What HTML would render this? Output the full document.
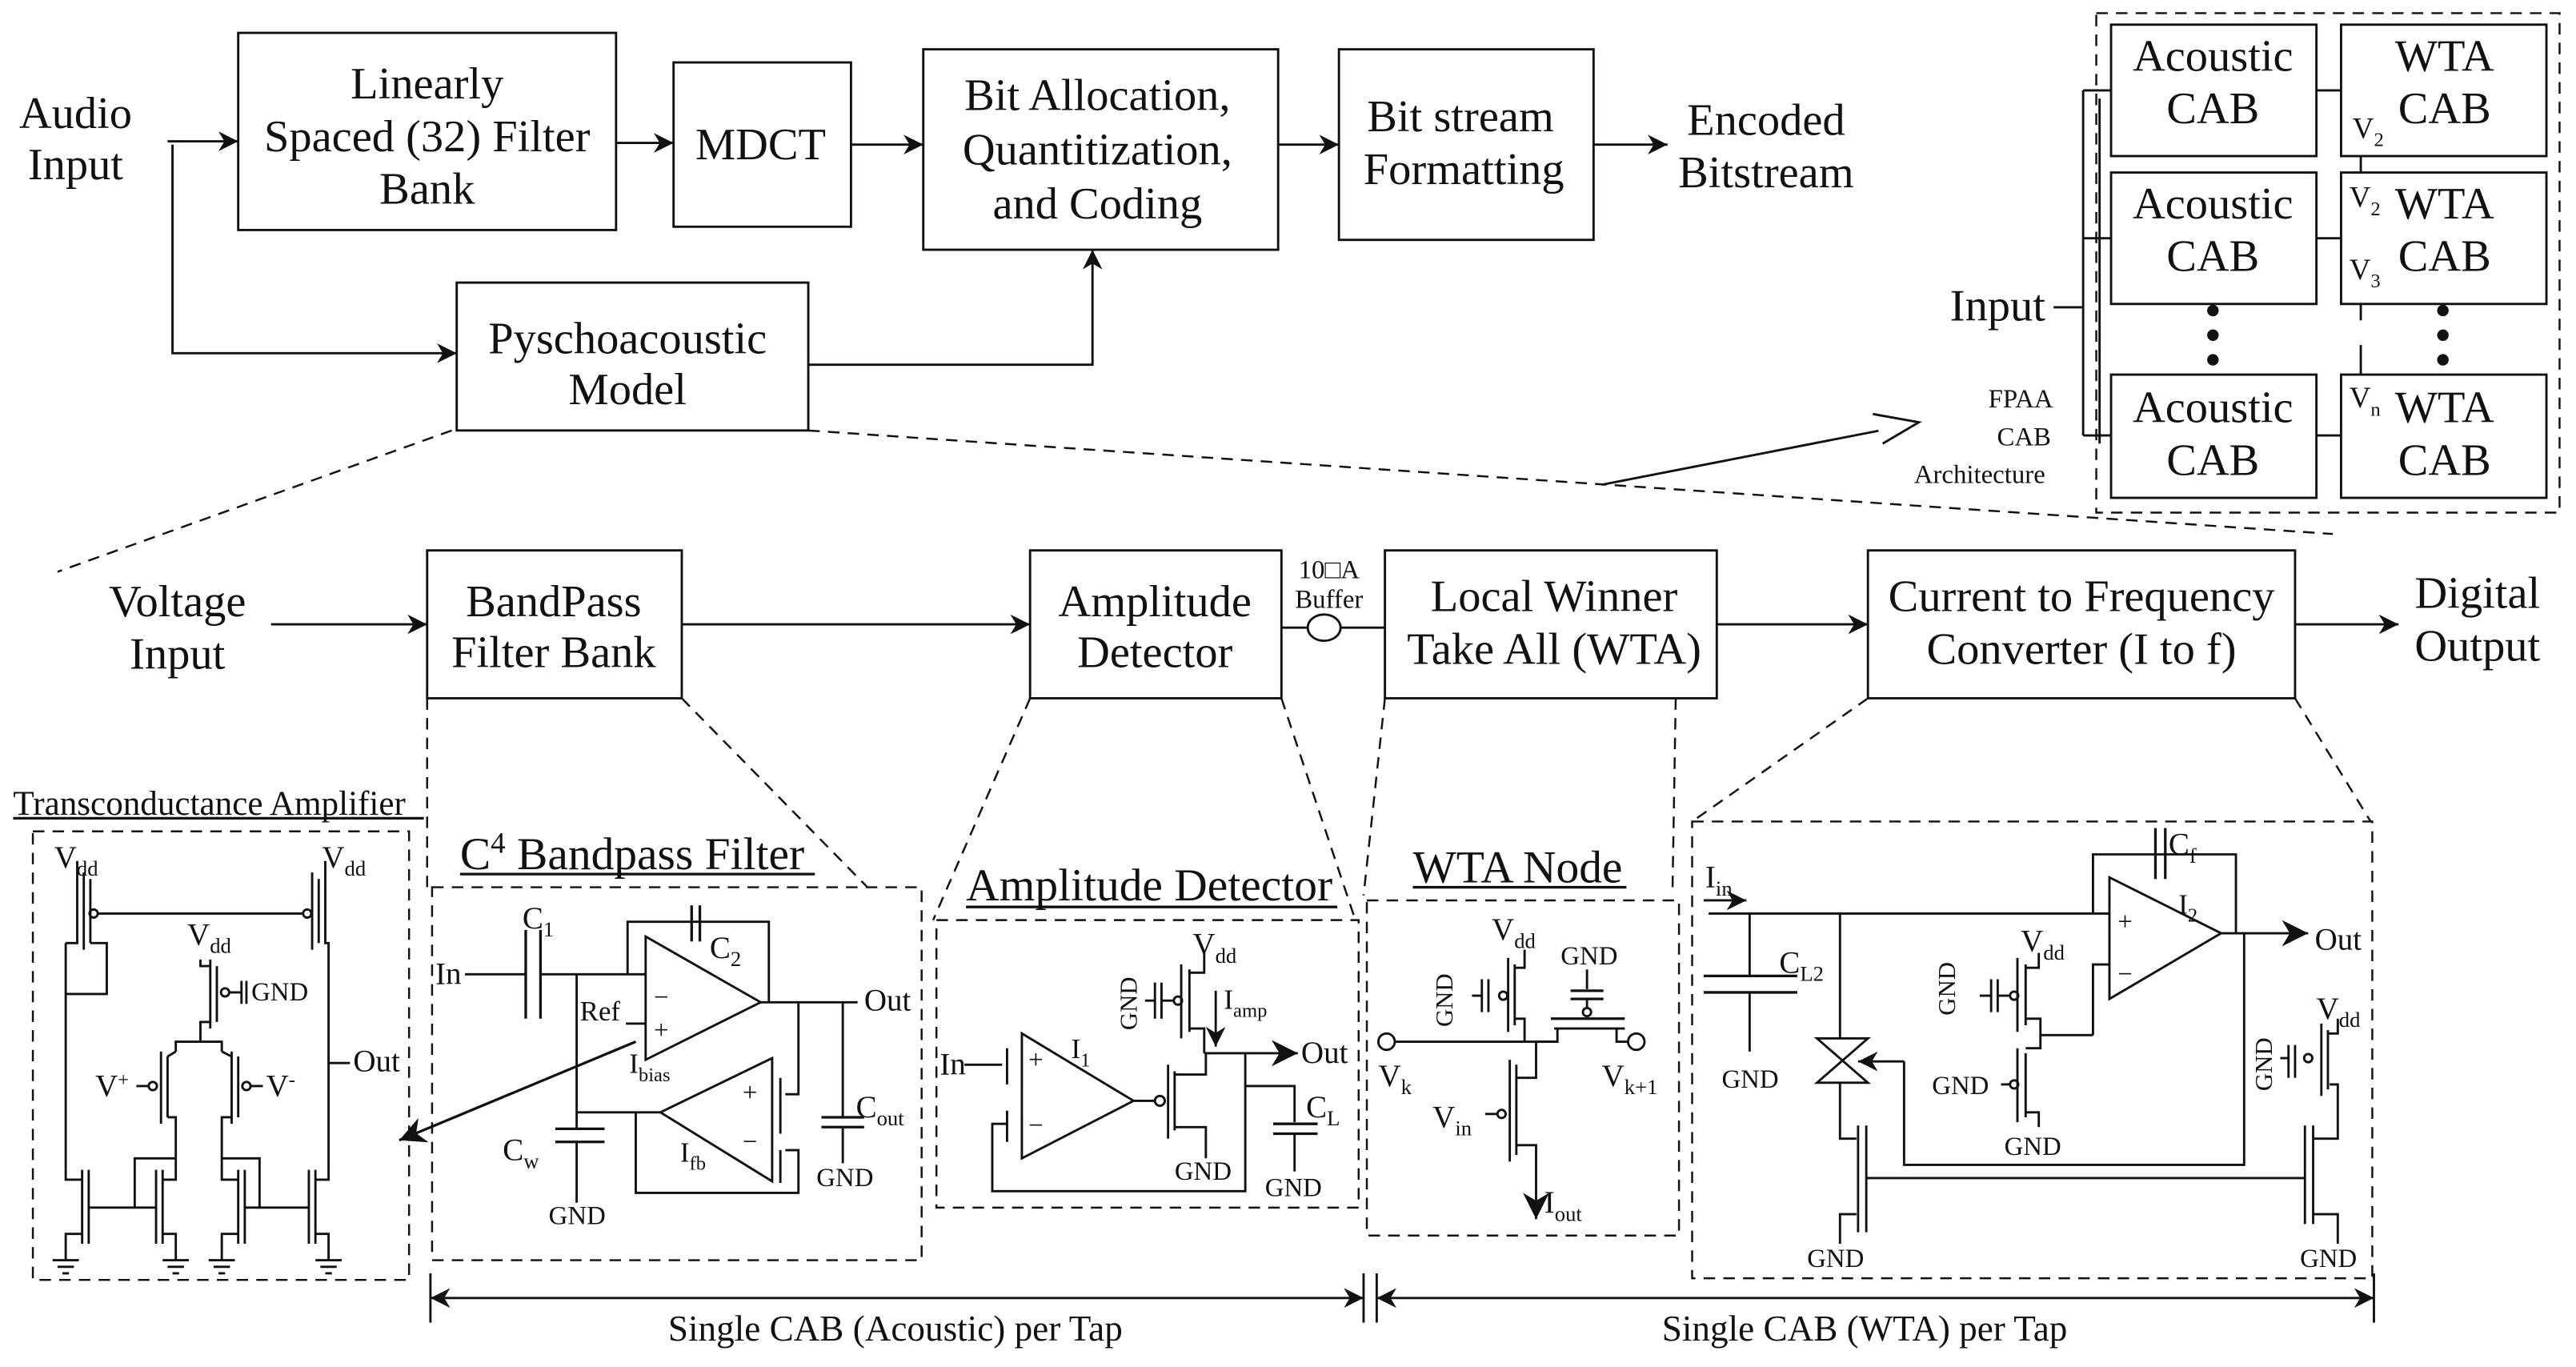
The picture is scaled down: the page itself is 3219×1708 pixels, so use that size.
<!DOCTYPE html>
<html><head><meta charset="utf-8"><style>
html,body{margin:0;padding:0;background:#fff;}
svg{display:block;}
text{font-family:"Liberation Serif",serif;fill:#111;}
</style></head><body>
<svg width="3219" height="1708" viewBox="0 0 1568 832" preserveAspectRatio="none" xmlns="http://www.w3.org/2000/svg">
<defs>
<marker id="a" viewBox="0 0 10 10" refX="10" refY="5" markerWidth="12" markerHeight="12" markerUnits="userSpaceOnUse" orient="auto"><path d="M0,0 L10,5 L0,10 L3,5 z" fill="#111"/></marker>
<marker id="b" viewBox="0 0 10 10" refX="10" refY="5" markerWidth="22" markerHeight="16" markerUnits="userSpaceOnUse" orient="auto"><path d="M0,0 L10,5 L0,10 L3,5 z" fill="#111"/></marker>
<marker id="s" viewBox="0 0 10 10" refX="0" refY="5" markerWidth="12" markerHeight="12" markerUnits="userSpaceOnUse" orient="auto"><path d="M10,0 L0,5 L10,10 L7,5 z" fill="#111"/></marker>
</defs>
<g stroke="#111" stroke-width="1.4" fill="none">
<rect x="145" y="20" width="230" height="120"/>
<rect x="410" y="38" width="108" height="100"/>
<rect x="562" y="30" width="216" height="122"/>
<rect x="815" y="30" width="155" height="116"/>
<rect x="278" y="172" width="214" height="90"/>
<line x1="102" y1="86" x2="145" y2="86" marker-end="url(#a)"/>
<line x1="375" y1="87" x2="410" y2="87" marker-end="url(#a)"/>
<line x1="518" y1="88" x2="562" y2="88" marker-end="url(#a)"/>
<line x1="778" y1="88" x2="815" y2="88" marker-end="url(#a)"/>
<line x1="970" y1="88" x2="1015" y2="88" marker-end="url(#a)"/>
<polyline points="105,88 105,215 278,215" marker-end="url(#a)"/>
<polyline points="492,222 665,222 665,152" marker-end="url(#a)"/>
<g stroke-dasharray="7 5" stroke-width="1.2">
<line x1="275" y1="262" x2="35" y2="348"/>
<line x1="492" y1="262" x2="1420" y2="325"/>
<rect x="1276" y="8" width="282" height="304"/>
</g>
<polyline points="975,295 1165,258"/>
<path d="M1140,252 L1168,257 L1146,270" fill="#fff"/>
<rect x="1285" y="15" width="125" height="80"/>
<rect x="1425" y="15" width="125" height="80"/>
<rect x="1285" y="105" width="125" height="80"/>
<rect x="1425" y="105" width="125" height="80"/>
<rect x="1285" y="228" width="125" height="75"/>
<rect x="1425" y="228" width="125" height="75"/>
<line x1="1410" y1="55" x2="1425" y2="55"/>
<line x1="1410" y1="145" x2="1425" y2="145"/>
<line x1="1410" y1="265" x2="1425" y2="265"/>
<line x1="1250" y1="187" x2="1268" y2="187"/>
<line x1="1268" y1="55" x2="1268" y2="265"/>
<line x1="1278" y1="60" x2="1278" y2="270"/>
<line x1="1268" y1="55" x2="1285" y2="55"/>
<line x1="1268" y1="145" x2="1285" y2="145"/>
<line x1="1268" y1="265" x2="1285" y2="265"/>
<line x1="1437" y1="95" x2="1437" y2="105"/>
<line x1="1437" y1="185" x2="1437" y2="195"/>
<line x1="1437" y1="210" x2="1437" y2="228"/>
<rect x="260" y="335" width="155" height="90"/>
<rect x="627" y="335" width="153" height="90"/>
<rect x="843" y="335" width="202" height="90"/>
<rect x="1137" y="335" width="260" height="90"/>
<line x1="165" y1="380" x2="260" y2="380" marker-end="url(#a)"/>
<line x1="415" y1="380" x2="627" y2="380" marker-end="url(#a)"/>
<line x1="780" y1="382" x2="843" y2="382"/>
<ellipse cx="806" cy="382" rx="10" ry="8" fill="#fff"/>
<line x1="1045" y1="380" x2="1137" y2="380" marker-end="url(#a)"/>
<line x1="1397" y1="380" x2="1460" y2="380" marker-end="url(#a)"/>
<g stroke-dasharray="7 5" stroke-width="1.2">
<line x1="260" y1="425" x2="260" y2="540"/>
<line x1="415" y1="425" x2="528" y2="540"/>
<line x1="627" y1="425" x2="568" y2="560"/>
<line x1="780" y1="425" x2="825" y2="560"/>
<line x1="843" y1="425" x2="830" y2="545"/>
<line x1="1020" y1="425" x2="1018" y2="545"/>
<line x1="1137" y1="425" x2="1030" y2="500"/>
<line x1="1397" y1="425" x2="1443" y2="500"/>
<rect x="20" y="506" width="229" height="273"/>
<rect x="263" y="540" width="298" height="227"/>
<rect x="570" y="560" width="257" height="175"/>
<rect x="832" y="548" width="190" height="204"/>
<rect x="1030" y="500" width="414" height="278"/>
</g>
<line x1="262" y1="790" x2="830" y2="790" marker-end="url(#a)" marker-start="url(#s)"/>
<line x1="838" y1="790" x2="1445" y2="790" marker-end="url(#a)" marker-start="url(#s)"/>
<line x1="262" y1="775" x2="262" y2="805"/>
<line x1="830" y1="775" x2="830" y2="805"/>
<line x1="838" y1="775" x2="838" y2="805"/>
<line x1="1445" y1="775" x2="1445" y2="805"/>

<line x1="8" y1="498" x2="258" y2="498" stroke-width="1.6"/>
<polyline points="40,574 47,574 47,531 47,524"/>
<line x1="51" y1="531" x2="51" y2="578"/><line x1="55" y1="535" x2="55" y2="574"/>
<line x1="40" y1="574" x2="40" y2="711"/>
<circle cx="57" cy="556" r="2.5"/>
<line x1="59" y1="556" x2="185" y2="556"/>
<circle cx="187" cy="556" r="2.5"/>
<line x1="190" y1="531" x2="190" y2="578"/><line x1="194" y1="535" x2="194" y2="574"/>
<polyline points="198,524 198,574 200,574 200,711"/>
<polyline points="55,574 65,574 65,605 40,605"/>
<line x1="128" y1="584" x2="128" y2="626"/><line x1="132" y1="588" x2="132" y2="622"/>
<polyline points="122,584 122,588 128,588"/>
<circle cx="137" cy="604" r="2.5"/><line x1="140" y1="604" x2="147" y2="604"/>
<line x1="147" y1="597" x2="147" y2="611"/><line x1="150" y1="597" x2="150" y2="611"/>
<polyline points="128,622 122,622 122,634 107,634 107,640"/>
<polyline points="122,634 135,634 135,640"/>
<line x1="98" y1="640" x2="98" y2="684"/><line x1="102" y1="643" x2="102" y2="680"/>
<polyline points="107,640 102,643"/><polyline points="102,680 107,680 107,711"/>
<circle cx="93" cy="661" r="2.5"/><line x1="83" y1="661" x2="90" y2="661"/>
<line x1="141" y1="640" x2="141" y2="684"/><line x1="145" y1="643" x2="145" y2="680"/>
<polyline points="135,640 141,643"/><polyline points="141,680 135,680 135,711"/>
<circle cx="150" cy="661" r="2.5"/><line x1="153" y1="661" x2="160" y2="661"/>
<line x1="200" y1="647" x2="213" y2="647"/>
<g>
<line x1="50" y1="712" x2="50" y2="757"/><line x1="54" y1="712" x2="54" y2="757"/>
<polyline points="40,711 40,718 50,718"/><polyline points="50,751 40,751 40,767"/>
<line x1="95" y1="712" x2="95" y2="757"/><line x1="99" y1="712" x2="99" y2="757"/>
<polyline points="107,711 107,718 99,718"/><polyline points="99,751 107,751 107,767"/>
<polyline points="54,735 95,735"/><polyline points="82,735 82,705 107,705"/>
<line x1="145" y1="712" x2="145" y2="757"/><line x1="149" y1="712" x2="149" y2="757"/>
<polyline points="135,711 135,718 145,718"/><polyline points="145,751 135,751 135,767"/>
<line x1="188" y1="712" x2="188" y2="757"/><line x1="192" y1="712" x2="192" y2="757"/>
<polyline points="200,711 200,718 192,718"/><polyline points="192,751 200,751 200,767"/>
<polyline points="149,735 188,735"/><polyline points="158,735 158,705 135,705"/>
<path d="M32,767h16M35,771h10M38,775h4 M99,767h16M102,771h10M105,775h4 M127,767h16M130,771h10M133,775h4 M192,767h16M195,771h10M198,775h4"/>
</g>

<line x1="280" y1="532" x2="496" y2="532" stroke-width="1.6"/>
<line x1="283" y1="593" x2="320" y2="593"/>
<line x1="320" y1="566" x2="320" y2="620" stroke-width="1.6"/><line x1="329" y1="566" x2="329" y2="620" stroke-width="1.6"/>
<line x1="329" y1="593" x2="393" y2="593"/>
<polygon points="393,570 463,610 393,645"/>
<polyline points="382,593 382,561 468,561 468,610"/>
<line x1="421" y1="551" x2="421" y2="573" stroke-width="1.6"/><line x1="426" y1="551" x2="426" y2="573" stroke-width="1.6"/>
<line x1="463" y1="610" x2="522" y2="610"/>
<line x1="381" y1="623" x2="393" y2="623"/>
<line x1="351" y1="593" x2="351" y2="687"/>
<line x1="338" y1="687" x2="368" y2="687" stroke-width="1.6"/><line x1="338" y1="695" x2="368" y2="695" stroke-width="1.6"/>
<line x1="351" y1="695" x2="351" y2="732"/>
<line x1="351" y1="677" x2="402" y2="677"/>
<polygon points="402,677 470,644 470,719"/>
<polyline points="387,677 387,726 486,726 486,700 478,700"/>
<line x1="475" y1="656" x2="475" y2="690"/><line x1="475" y1="700" x2="475" y2="720"/>
<polyline points="486,610 486,666 478,666"/>
<line x1="513" y1="610" x2="513" y2="680"/>
<line x1="500" y1="680" x2="526" y2="680" stroke-width="1.6"/><line x1="500" y1="686" x2="526" y2="686" stroke-width="1.6"/>
<line x1="513" y1="686" x2="513" y2="708"/>
<line x1="387" y1="634" x2="243" y2="694" stroke-width="1.6" marker-end="url(#b)"/>

<line x1="588" y1="552" x2="814" y2="552" stroke-width="1.6"/>
<line x1="587" y1="648" x2="610" y2="648"/>
<line x1="613" y1="638" x2="613" y2="660"/><line x1="613" y1="676" x2="613" y2="695"/>
<polygon points="622,629 690,670 622,705"/>
<polyline points="613,684 604,684 604,725 758,725 758,641"/>
<line x1="690" y1="670" x2="703" y2="670"/>
<circle cx="706" cy="670" r="3"/>
<line x1="711" y1="648" x2="711" y2="693"/><line x1="715" y1="652" x2="715" y2="688"/>
<polyline points="715,654 734,654 734,641"/><polyline points="715,686 734,686 734,705"/>
<line x1="719" y1="587" x2="719" y2="632"/><line x1="724" y1="590" x2="724" y2="628"/>
<polyline points="724,592 733,592 733,580"/><polyline points="724,626 733,626 733,641"/>
<circle cx="717" cy="609" r="2.5"/>
<line x1="703" y1="598" x2="703" y2="620"/><line x1="707" y1="598" x2="707" y2="620"/>
<line x1="697" y1="609" x2="703" y2="609"/><line x1="707" y1="609" x2="714" y2="609"/>
<line x1="740" y1="603" x2="740" y2="637" marker-end="url(#a)"/>
<line x1="733" y1="641" x2="790" y2="641" marker-end="url(#b)"/>
<polyline points="758,661 788,661 788,683"/>
<line x1="775" y1="684" x2="802" y2="684" stroke-width="1.6"/><line x1="775" y1="690" x2="802" y2="690" stroke-width="1.6"/>
<line x1="788" y1="690" x2="788" y2="713"/>

<line x1="860" y1="540" x2="990" y2="540" stroke-width="1.6"/>
<circle cx="844" cy="634" r="5"/>
<line x1="849" y1="634" x2="946" y2="634"/>
<line x1="918" y1="583" x2="918" y2="628"/><line x1="922" y1="587" x2="922" y2="624"/>
<polyline points="922,589 928,589 928,578"/><polyline points="922,620 928,620 928,634"/>
<circle cx="915" cy="606" r="2.5"/>
<line x1="902" y1="596" x2="902" y2="616"/><line x1="906" y1="596" x2="906" y2="616"/>
<line x1="896" y1="606" x2="902" y2="606"/>
<line x1="944" y1="620" x2="989" y2="620" stroke-width="1.6"/>
<line x1="946" y1="626" x2="989" y2="626"/>
<circle cx="966" cy="616" r="2.5"/>
<line x1="966" y1="590" x2="966" y2="602"/><line x1="966" y1="608" x2="966" y2="613"/>
<line x1="956" y1="603" x2="976" y2="603" stroke-width="1.6"/><line x1="956" y1="608" x2="976" y2="608" stroke-width="1.6"/>
<polyline points="948,626 948,634 935,634"/>
<polyline points="984,626 984,634 991,634"/>
<circle cx="996" cy="634" r="5"/>
<line x1="919" y1="645" x2="919" y2="707"/><line x1="923" y1="648" x2="923" y2="703"/>
<polyline points="923,656 935,656 935,634"/>
<polyline points="923,697 935,697 935,742" marker-end="url(#b)"/>
<circle cx="914" cy="678" r="2.5"/><line x1="904" y1="678" x2="911" y2="678"/>

<line x1="1037" y1="548" x2="1063" y2="548" marker-end="url(#a)"/>
<line x1="1040" y1="556" x2="1284" y2="556"/>
<line x1="1065" y1="556" x2="1065" y2="594"/>
<line x1="1037" y1="594" x2="1094" y2="594" stroke-width="1.6"/><line x1="1037" y1="604" x2="1094" y2="604" stroke-width="1.6"/>
<line x1="1065" y1="604" x2="1065" y2="640"/>
<line x1="1120" y1="556" x2="1120" y2="632"/>
<path d="M1106,632 L1137,632 L1106,659 L1137,659 Z"/>
<line x1="1159" y1="646" x2="1131" y2="646" marker-end="url(#a)"/>
<polyline points="1159,646 1159,709 1366,709 1366,568"/>
<polyline points="1120,659 1120,693 1130,693"/>
<line x1="1131" y1="685" x2="1131" y2="750"/><line x1="1136" y1="685" x2="1136" y2="750"/>
<polyline points="1130,739 1120,739 1120,757"/>
<line x1="1136" y1="717" x2="1403" y2="717"/>
<line x1="1403" y1="685" x2="1403" y2="745"/><line x1="1408" y1="685" x2="1408" y2="745"/>
<polyline points="1408,693 1423,693 1423,660 1418,660"/>
<polyline points="1408,739 1423,739 1423,757"/>
<line x1="1413" y1="623" x2="1413" y2="667"/><line x1="1417" y1="627" x2="1417" y2="663"/>
<polyline points="1417,629 1423,629 1423,620"/>
<circle cx="1405" cy="644" r="2.5"/>
<line x1="1393" y1="636" x2="1393" y2="656"/><line x1="1397" y1="636" x2="1397" y2="656"/>
<line x1="1388" y1="644" x2="1393" y2="644"/>
<polygon points="1284,534 1352,568 1284,608"/>
<polyline points="1274,556 1274,520 1361,520 1361,568"/>
<line x1="1312" y1="504" x2="1312" y2="535" stroke-width="1.6"/><line x1="1318" y1="504" x2="1318" y2="535" stroke-width="1.6"/>
<line x1="1352" y1="568" x2="1405" y2="568" marker-end="url(#b)"/>
<line x1="1228" y1="583" x2="1228" y2="628"/><line x1="1233" y1="587" x2="1233" y2="624"/>
<polyline points="1233,589 1241,589 1241,580"/>
<polyline points="1233,620 1242,620 1242,638 1233,638"/>
<line x1="1242" y1="630" x2="1274" y2="630"/>
<polyline points="1274,630 1274,587 1284,587"/>
<circle cx="1226" cy="606" r="2.5"/>
<line x1="1212" y1="596" x2="1212" y2="616"/><line x1="1216" y1="596" x2="1216" y2="616"/>
<line x1="1205" y1="606" x2="1212" y2="606"/><line x1="1216" y1="606" x2="1223" y2="606"/>
<line x1="1228" y1="638" x2="1228" y2="683"/><line x1="1233" y1="641" x2="1233" y2="680"/>
<polyline points="1233,677 1241,677 1241,686"/>
<circle cx="1226" cy="660" r="2.5"/><line x1="1218" y1="660" x2="1223" y2="660"/>
</g>

<g fill="#111"><circle cx="1347" cy="189" r="3.5"/><circle cx="1347" cy="204" r="3.5"/><circle cx="1347" cy="219" r="3.5"/>
<circle cx="1487" cy="189" r="3.5"/><circle cx="1487" cy="204" r="3.5"/><circle cx="1487" cy="219" r="3.5"/></g>

<g font-size="27.5" text-anchor="middle">
<text x="46" y="78">Audio</text><text x="46" y="109">Input</text>
<text x="260" y="60">Linearly</text><text x="260" y="92">Spaced (32) Filter</text><text x="260" y="124">Bank</text>
<text x="463" y="97">MDCT</text>
<text x="668" y="67">Bit Allocation,</text><text x="668" y="100">Quantitization,</text><text x="668" y="133">and Coding</text>
<text x="889" y="80">Bit stream</text><text x="891" y="112">Formatting</text>
<text x="1075" y="82">Encoded</text><text x="1075" y="114">Bitstream</text>
<text x="382" y="215">Pyschoacoustic</text><text x="382" y="246">Model</text>
<text x="1347" y="43">Acoustic</text><text x="1347" y="75">CAB</text>
<text x="1488" y="43">WTA</text><text x="1488" y="75">CAB</text>
<text x="1347" y="133">Acoustic</text><text x="1347" y="165">CAB</text>
<text x="1488" y="133">WTA</text><text x="1488" y="165">CAB</text>
<text x="1347" y="257">Acoustic</text><text x="1347" y="289">CAB</text>
<text x="1488" y="257">WTA</text><text x="1488" y="289">CAB</text>
<text x="1216" y="195">Input</text>
<text x="108" y="375">Voltage</text><text x="108" y="407">Input</text>
<text x="337" y="375">BandPass</text><text x="337" y="406">Filter Bank</text>
<text x="703" y="375">Amplitude</text><text x="703" y="406">Detector</text>
<text x="946" y="372">Local Winner</text><text x="946" y="404">Take All (WTA)</text>
<text x="1267" y="372">Current to Frequency</text><text x="1267" y="404">Converter (I to f)</text>
<text x="1508" y="370">Digital</text><text x="1508" y="402">Output</text>
</g>
<g font-size="16" text-anchor="middle">
<text x="1230" y="248">FPAA</text><text x="1232" y="271">CAB</text><text x="1205" y="294">Architecture</text>
<text x="809" y="352">10&#9633;A</text><text x="809" y="370">Buffer</text>
</g>
<g font-size="18">
<text x="1432" y="84">V<tspan font-size="12" dy="5">2</tspan></text>
<text x="1430" y="126">V<tspan font-size="12" dy="5">2</tspan></text>
<text x="1430" y="170">V<tspan font-size="12" dy="5">3</tspan></text>
<text x="1430" y="248">V<tspan font-size="12" dy="5">n</tspan></text>
</g>
<g font-size="22" text-anchor="middle">
<text x="545" y="816">Single CAB (Acoustic) per Tap</text>
<text x="1135" y="816">Single CAB (WTA) per Tap</text>
</g>
<text x="8" y="496" font-size="21">Transconductance Amplifier</text>
<text x="280" y="529" font-size="28">C<tspan font-size="18" dy="-10">4</tspan><tspan dy="10"> Bandpass Filter</tspan></text>
<text x="588" y="548" font-size="28">Amplitude Detector</text>
<text x="860" y="537" font-size="28">WTA Node</text>
<g font-size="19">
<text x="33" y="528">V<tspan font-size="13" dy="5">dd</tspan></text>
<text x="196" y="528">V<tspan font-size="13" dy="5">dd</tspan></text>
<text x="114" y="575">V<tspan font-size="13" dy="5">dd</tspan></text>
<text x="153" y="609" font-size="16">GND</text>
<text x="58" y="667">V<tspan font-size="12" dy="-6">+</tspan></text>
<text x="162" y="667">V<tspan font-size="12" dy="-6">-</tspan></text>
<text x="215" y="652">Out</text>
<text x="265" y="599">In</text>
<text x="318" y="565">C<tspan font-size="13" dy="5">1</tspan></text>
<text x="432" y="583">C<tspan font-size="13" dy="5">2</tspan></text>
<text x="353" y="621" font-size="17">Ref</text>
<text x="383" y="653" font-size="17">I<tspan font-size="12" dy="5">bias</tspan></text>
<text x="398" y="612" font-size="16">&#8722;</text><text x="398" y="632" font-size="16">+</text>
<text x="452" y="670" font-size="16">+</text><text x="452" y="700" font-size="16">&#8722;</text>
<text x="414" y="707" font-size="17">I<tspan font-size="12" dy="5">fb</tspan></text>
<text x="526" y="615">Out</text>
<text x="521" y="680">C<tspan font-size="13" dy="5">out</tspan></text>
<text x="306" y="706">C<tspan font-size="13" dy="5">w</tspan></text>
<text x="334" y="745" font-size="16">GND</text>
<text x="497" y="722" font-size="16">GND</text>
<text x="572" y="654">In</text>
<text x="626" y="650" font-size="16">+</text><text x="626" y="690" font-size="16">&#8722;</text>
<text x="652" y="644" font-size="17">I<tspan font-size="12" dy="5">1</tspan></text>
<text x="726" y="581">V<tspan font-size="13" dy="5">dd</tspan></text>
<text x="745" y="614" font-size="17">I<tspan font-size="12" dy="5">amp</tspan></text>
<text x="792" y="647">Out</text>
<text x="795" y="680">C<tspan font-size="13" dy="5">L</tspan></text>
<text x="715" y="718" font-size="16">GND</text>
<text x="770" y="728" font-size="16">GND</text>
<text x="692" y="627" font-size="15" transform="rotate(-90 692 627)">GND</text>
<text x="908" y="572">V<tspan font-size="13" dy="5">dd</tspan></text>
<text x="950" y="587" font-size="16">GND</text>
<text x="884" y="625" font-size="15" transform="rotate(-90 884 625)">GND</text>
<text x="839" y="661">V<tspan font-size="13" dy="5">k</tspan></text>
<text x="975" y="661">V<tspan font-size="13" dy="5">k+1</tspan></text>
<text x="872" y="686">V<tspan font-size="13" dy="5">in</tspan></text>
<text x="940" y="738">I<tspan font-size="13" dy="5">out</tspan></text>
<text x="1038" y="540">I<tspan font-size="13" dy="5">in</tspan></text>
<text x="1083" y="592">C<tspan font-size="13" dy="5">L2</tspan></text>
<text x="1048" y="662" font-size="16">GND</text>
<text x="1230" y="579">V<tspan font-size="13" dy="5">dd</tspan></text>
<text x="1190" y="618" font-size="15" transform="rotate(-90 1190 618)">GND</text>
<text x="1176" y="666" font-size="16">GND</text>
<text x="1220" y="703" font-size="16">GND</text>
<text x="1289" y="566" font-size="16">+</text><text x="1289" y="598" font-size="16">&#8722;</text>
<text x="1320" y="520">C<tspan font-size="13" dy="5">f</tspan></text>
<text x="1326" y="556" font-size="17">I<tspan font-size="12" dy="5">2</tspan></text>
<text x="1409" y="578">Out</text>
<text x="1410" y="620">V<tspan font-size="13" dy="5">dd</tspan></text>
<text x="1383" y="664" font-size="15" transform="rotate(-90 1383 664)">GND</text>
<text x="1100" y="771" font-size="16">GND</text>
<text x="1400" y="771" font-size="16">GND</text>
</g>
</svg>
</body></html>
